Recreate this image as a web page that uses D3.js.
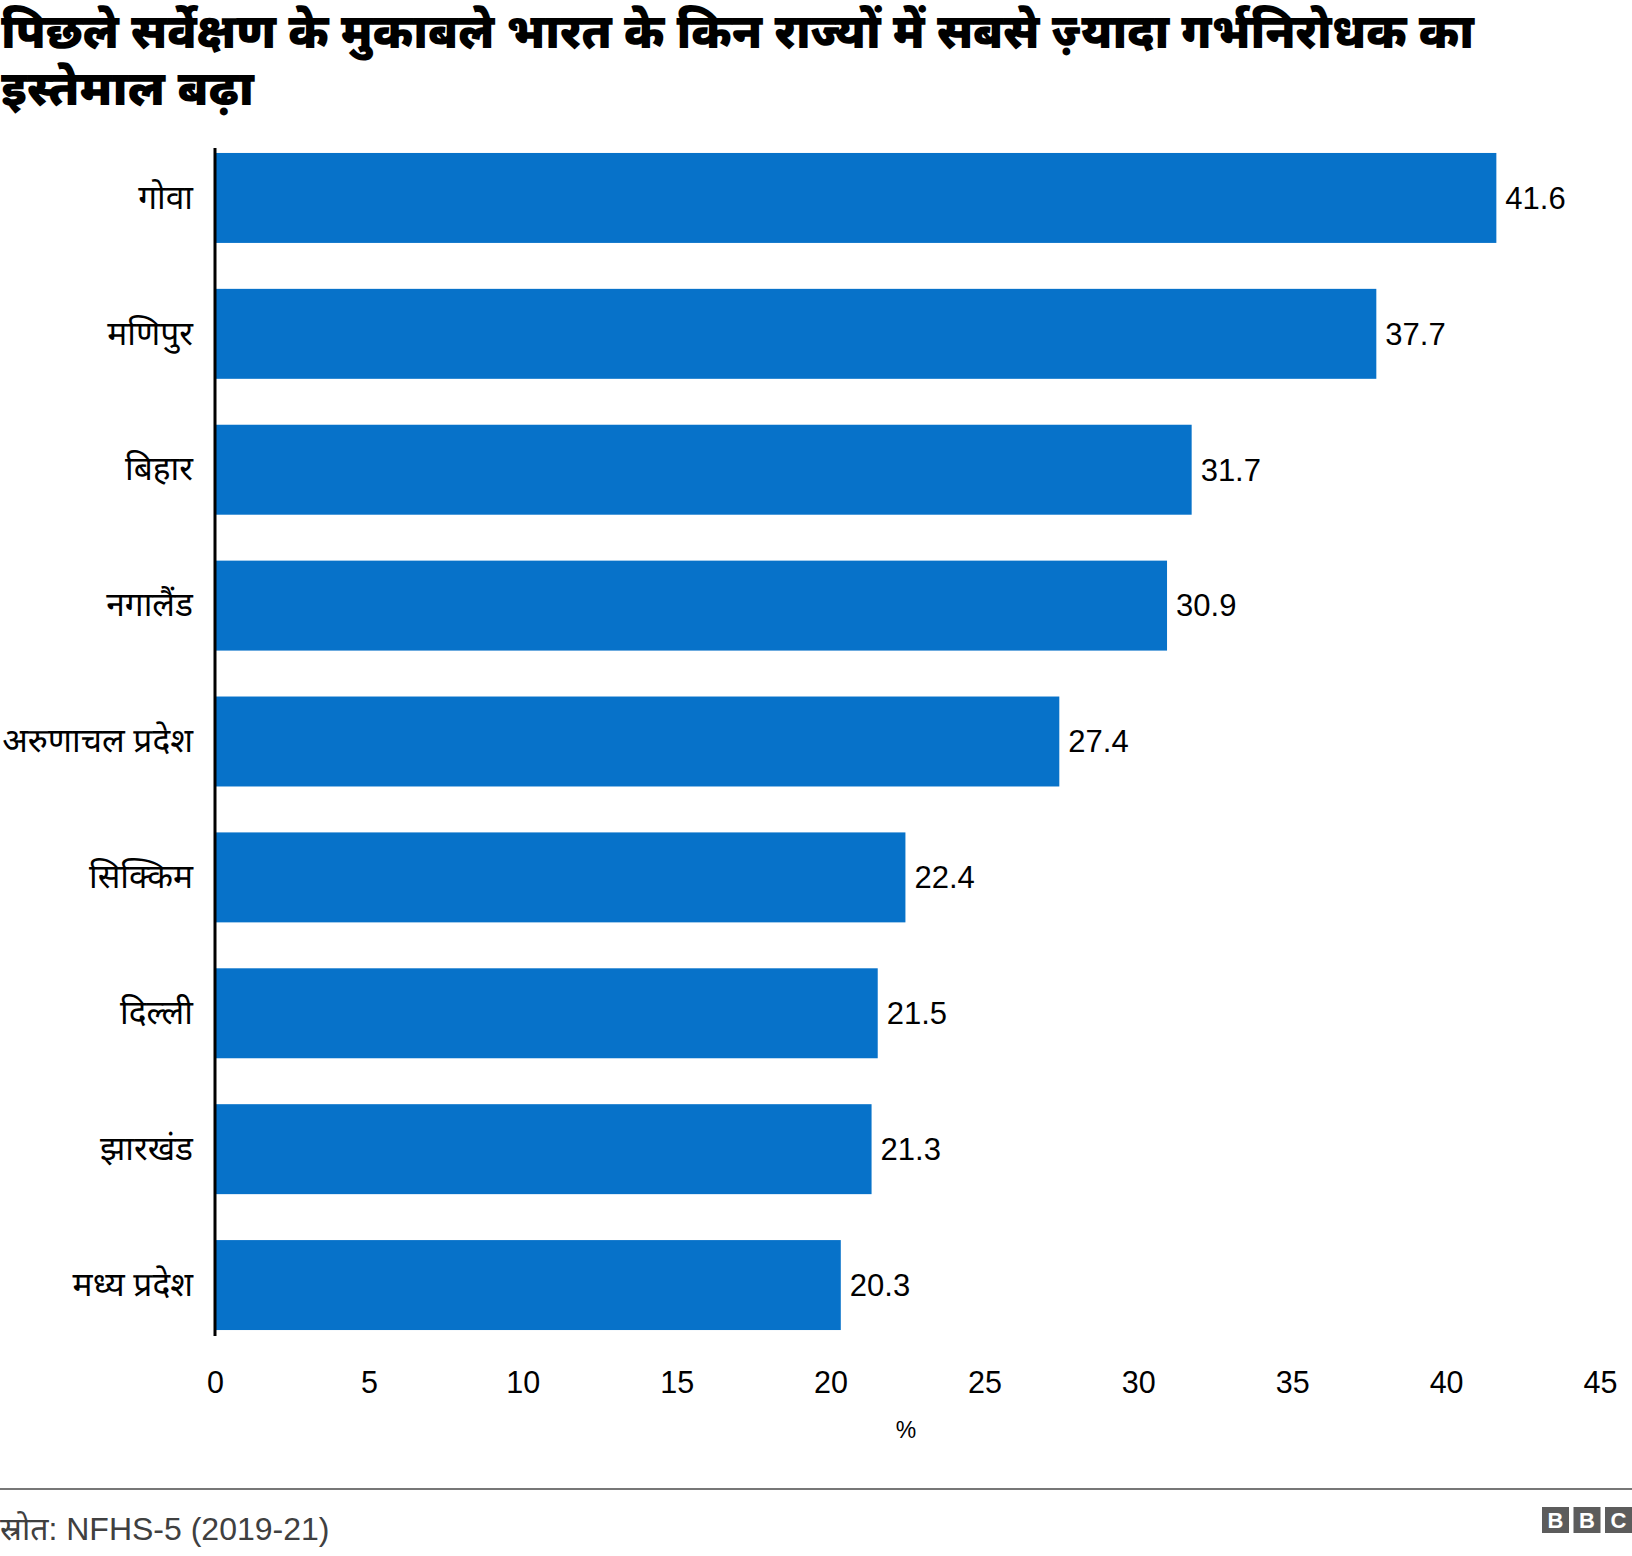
<!DOCTYPE html>
<html>
<head>
<meta charset="utf-8">
<script src="https://cdn.jsdelivr.net/npm/d3@7/dist/d3.min.js"></script>
<style>
  html, body { margin: 0; padding: 0; background: #fff; }
  svg { display: block; }
</style>
</head>
<body>
<svg id="chart" width="1632" height="1556"></svg>
<script>
// ---- Data ----
const titleLines = [
  "पिछले सर्वेक्षण के मुकाबले भारत के किन राज्यों में सबसे ज़्यादा गर्भनिरोधक का",
  "इस्तेमाल बढ़ा"
];
const states = ["गोवा", "मणिपुर", "बिहार", "नगालैंड", "अरुणाचल प्रदेश", "सिक्किम", "दिल्ली", "झारखंड", "मध्य प्रदेश"];
const values = [41.6, 37.7, 31.7, 30.9, 27.4, 22.4, 21.5, 21.3, 20.3];
const xTicks = [0, 5, 10, 15, 20, 25, 30, 35, 40, 45];
const xAxisLabel = "%";
const sourceText = "स्रोत: NFHS-5 (2019-21)";

// ---- Layout ----
const W = 1632, H = 1556;
const devaFont = "'Noto Sans Devanagari', 'Noto Sans', 'Lohit Devanagari', sans-serif";
const latinFont = "'Liberation Sans', Arial, Helvetica, sans-serif";
const barColor = "#0772c9";

const svg = d3.select("#chart");
svg.append("rect").attr("width", W).attr("height", H).attr("fill", "#fff");

// Title
const titleWidths = [1473, 253];
const titleBaselines = [48, 105];
titleLines.forEach((t, i) => {
  svg.append("text")
    .attr("x", 1).attr("y", titleBaselines[i])
    .attr("font-family", devaFont)
    .attr("font-weight", 900)
    .attr("font-size", 48)
    .attr("fill", "#000")
    .attr("textLength", titleWidths[i])
    .attr("lengthAdjust", "spacingAndGlyphs")
    .text(t);
});

// Scales
const x = d3.scaleLinear().domain([0, 45]).range([216, 1601]);
const y = d3.scaleBand().domain(states).range([130, 1353]).paddingInner(0.338).paddingOuter(0.169);

// Bars
svg.append("g").selectAll("rect").data(states).join("rect")
  .attr("x", x(0))
  .attr("y", d => y(d))
  .attr("width", (d, i) => x(values[i]) - x(0))
  .attr("height", y.bandwidth())
  .attr("fill", barColor);

// Value labels
svg.append("g").selectAll("text").data(states).join("text")
  .attr("x", (d, i) => x(values[i]) + 9)
  .attr("y", d => y(d) + y.bandwidth() / 2)
  .attr("dy", "0.35em")
  .attr("font-family", latinFont)
  .attr("font-size", 31)
  .attr("fill", "#000")
  .text((d, i) => values[i].toFixed(1));

// Category labels (y axis)
const yAxis = d3.axisLeft(y).tickSize(0).tickPadding(23);
const yg = svg.append("g").attr("transform", `translate(${x(0)},0)`).call(yAxis);
yg.select(".domain").remove();
yg.selectAll("text")
  .attr("font-family", devaFont)
  .attr("font-size", 33.5)
  .attr("fill", "#000");

// Vertical axis line
svg.append("line")
  .attr("x1", x(0) - 1).attr("x2", x(0) - 1)
  .attr("y1", 148).attr("y2", 1336)
  .attr("stroke", "#000").attr("stroke-width", 3);

// X axis
const xAxis = d3.axisBottom(x).tickValues(xTicks).tickSize(0).tickPadding(0).tickFormat(d3.format("d"));
const xg = svg.append("g").attr("transform", `translate(-1,1382)`).call(xAxis);
xg.select(".domain").remove();
xg.selectAll("text")
  .attr("dy", "0.35em")
  .attr("y", 0)
  .attr("font-family", latinFont)
  .attr("font-size", 30.5)
  .attr("fill", "#000");

svg.append("text")
  .attr("x", 906).attr("y", 1430).attr("dy", "0.35em")
  .attr("text-anchor", "middle")
  .attr("font-family", latinFont)
  .attr("font-size", 23)
  .attr("fill", "#000")
  .text(xAxisLabel);

// Footer
svg.append("line")
  .attr("x1", 0).attr("x2", W)
  .attr("y1", 1489).attr("y2", 1489)
  .attr("stroke", "#777").attr("stroke-width", 2);

svg.append("text")
  .attr("x", 0).attr("y", 1529).attr("dy", "0.35em")
  .attr("font-family", "'Liberation Sans', " + devaFont)
  .attr("font-size", 32)
  .attr("fill", "#404040")
  .text(sourceText);

// BBC logo
const logoLetters = ["B", "B", "C"];
const logo = svg.append("g");
logoLetters.forEach((l, i) => {
  const bx = 1542 + i * 31.5;
  logo.append("rect").attr("x", bx).attr("y", 1507).attr("width", 27).attr("height", 26).attr("fill", "#5c5c5c");
  logo.append("text").attr("x", bx + 13.5).attr("y", 1520.5).attr("dy", "0.36em")
    .attr("text-anchor", "middle")
    .attr("font-family", latinFont).attr("font-weight", 700).attr("font-size", 22)
    .attr("fill", "#fff").text(l);
});
</script>
</body>
</html>
